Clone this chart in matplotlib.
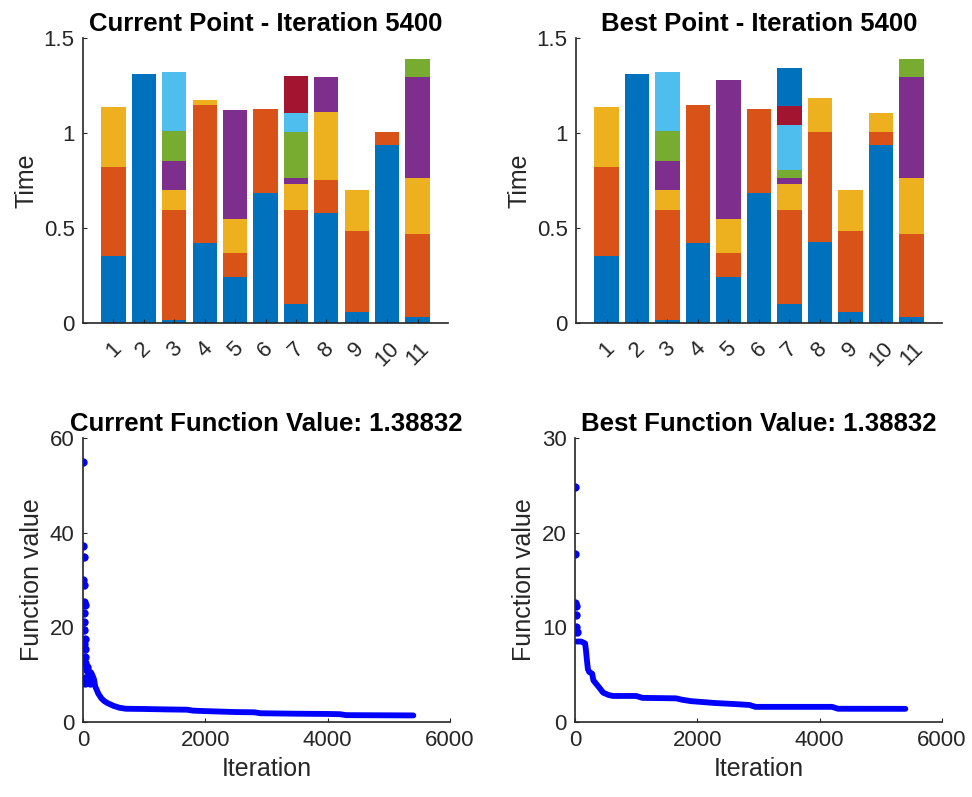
import matplotlib
matplotlib.use("Agg")
import matplotlib.pyplot as plt
import numpy as np

plt.rcParams['font.family'] = ['Liberation Sans', 'DejaVu Sans']

# MATLAB default colour order
colors = ['#0072BD', '#D95319', '#EDB120', '#7E2F8E', '#77AC30', '#4DBEEE', '#A2142F', '#0072BD']

machines = list(range(1, 12))

# stacked segment heights (one list per job), current point
cur_s1 = [0.354, 1.312, 0.018, 0.419, 0.240, 0.682, 0.102, 0.581, 0.056, 0.939, 0.030]
cur_s2 = [0.465, 0, 0.575, 0.728, 0.130, 0.446, 0.494, 0.172, 0.428, 0.066, 0.440]
cur_s3 = [0.318, 0, 0.107, 0.025, 0.179, 0, 0.137, 0.358, 0.214, 0, 0.291]
cur_s4 = [0, 0, 0.154, 0, 0.570, 0, 0.032, 0.182, 0, 0, 0.534]
cur_s5 = [0, 0, 0.155, 0, 0, 0, 0.240, 0, 0, 0, 0.094]
cur_s6 = [0, 0, 0.310, 0, 0, 0, 0.099, 0, 0, 0, 0]
cur_s7 = [0, 0, 0, 0, 0, 0, 0.198, 0, 0, 0, 0]
cur_s8 = [0, 0, 0, 0, 0, 0, 0, 0, 0, 0, 0]

# best point
best_s1 = [0.354, 1.312, 0.018, 0.419, 0.240, 0.682, 0.102, 0.428, 0.056, 0.939, 0.030]
best_s2 = [0.465, 0, 0.575, 0.728, 0.130, 0.446, 0.494, 0.579, 0.428, 0.066, 0.440]
best_s3 = [0.318, 0, 0.107, 0, 0.179, 0, 0.137, 0.177, 0.214, 0.100, 0.291]
best_s4 = [0, 0, 0.154, 0, 0.730, 0, 0.032, 0, 0, 0, 0.534]
best_s5 = [0, 0, 0.155, 0, 0, 0, 0.039, 0, 0, 0, 0.094]
best_s6 = [0, 0, 0.310, 0, 0, 0, 0.236, 0, 0, 0, 0]
best_s7 = [0, 0, 0, 0, 0, 0, 0.102, 0, 0, 0, 0]
best_s8 = [0, 0, 0, 0, 0, 0, 0.198, 0, 0, 0, 0]

# current function value: scattered early points, then the dense band
cur_early_it = [5, 5, 10, 0, 20, 10, 25, 10, 15, 20, 40, 10, 40, 0, 40, 25, 60, 70, 90, 25, 40, 100, 120]
cur_early_val = [55.0, 37.1, 34.8, 30.0, 29.0, 25.4, 24.7, 23.0, 21.2, 19.4, 17.6, 16.5, 15.5, 13.1,
                 13.8, 12.4, 11.7, 11.0, 10.3, 9.2, 8.2, 9.6, 8.2]
cur_it = [130, 150, 180, 200, 250, 300, 350, 400, 500, 600, 700, 1000, 1400, 1700, 1800, 2000,
          2500, 2800, 2900, 3500, 4000, 4200, 4300, 5400]
cur_val = [10.5, 10.0, 9.0, 7.5, 6.0, 5.0, 4.4, 4.0, 3.4, 3.0, 2.8, 2.75, 2.65, 2.6, 2.4, 2.3,
           2.1, 2.05, 1.85, 1.75, 1.7, 1.65, 1.45, 1.39]

# best function value
best_early_it = [0, 0, 5, 10, 15, 20, 25]
best_early_val = [24.8, 17.7, 12.6, 12.3, 11.3, 10.0, 9.5]
best_it = [30, 100, 165, 180, 190, 210, 230, 280, 300, 400, 460, 550, 620, 1000, 1100, 1650,
           1750, 1900, 2300, 2600, 2850, 2950, 4200, 4300, 5400]
best_val = [8.5, 8.5, 8.3, 7.5, 6.8, 5.6, 5.3, 5.1, 4.4, 3.6, 3.1, 2.85, 2.75, 2.75, 2.55, 2.5,
            2.35, 2.2, 2.0, 1.9, 1.8, 1.6, 1.6, 1.4, 1.39]

TXT = '#262626'


def style(ax):
    for s in ['top', 'right']:
        ax.spines[s].set_visible(False)
    for s in ['left', 'bottom']:
        ax.spines[s].set_color(TXT)
        ax.spines[s].set_linewidth(1.2)
    ax.tick_params(direction='in', length=3, width=0.8, colors=TXT, labelsize=16, pad=6)


def bars(ax, series, title):
    bottom = np.zeros(len(machines))
    for k, s in enumerate(series):
        ax.bar(machines, s, width=0.8, bottom=bottom, color=colors[k], linewidth=0)
        bottom += np.array(s)
    style(ax)
    ax.set_xlim(0, 12)
    ax.set_ylim(0, 1.5)
    ax.set_yticks([0, 0.5, 1, 1.5])
    ax.set_yticklabels(['0', '0.5', '1', '1.5'])
    ax.set_xticks(machines)
    ax.set_xticklabels([str(m) for m in machines], rotation=45, ha='center', va='top')
    ax.tick_params(axis='x', pad=11)
    ax.set_ylabel('Time', fontsize=18, color=TXT, labelpad=4)
    ax.set_title(title, fontsize=18.5, fontweight='bold', pad=5)


def fval(ax, e_it, e_val, it, val, ymax, title):
    ax.plot(it, val, '-', color='blue', lw=4.2, solid_capstyle='round')
    ax.plot(e_it, e_val, 'o', color='blue', ms=6, mew=0)
    style(ax)
    ax.set_xlim(0, 6000)
    ax.set_ylim(0, ymax)
    ax.set_xticks([0, 2000, 4000, 6000])
    ax.set_yticks(np.linspace(0, ymax, 4))
    ax.set_xlabel('Iteration', fontsize=18, color=TXT)
    ax.set_ylabel('Function value', fontsize=18, color=TXT, labelpad=4)
    ax.set_title(title, fontsize=18.5, fontweight='bold', pad=5)


fig = plt.figure(figsize=(9.72, 7.97), dpi=100)
ax1 = fig.add_axes([0.0854, 0.5947, 0.3755, 0.3576])
ax2 = fig.add_axes([0.5926, 0.5947, 0.3765, 0.3576])
ax3 = fig.add_axes([0.0854, 0.0941, 0.3776, 0.3563])
ax4 = fig.add_axes([0.5916, 0.0941, 0.3776, 0.3563])

bars(ax1, [cur_s1, cur_s2, cur_s3, cur_s4, cur_s5, cur_s6, cur_s7, cur_s8], 'Current Point - Iteration 5400')
bars(ax2, [best_s1, best_s2, best_s3, best_s4, best_s5, best_s6, best_s7, best_s8], 'Best Point - Iteration 5400')
fval(ax3, cur_early_it, cur_early_val, cur_it, cur_val, 60, 'Current Function Value: 1.38832')
fval(ax4, best_early_it, best_early_val, best_it, best_val, 30, 'Best Function Value: 1.38832')

fig.savefig('out.png', dpi=100)
